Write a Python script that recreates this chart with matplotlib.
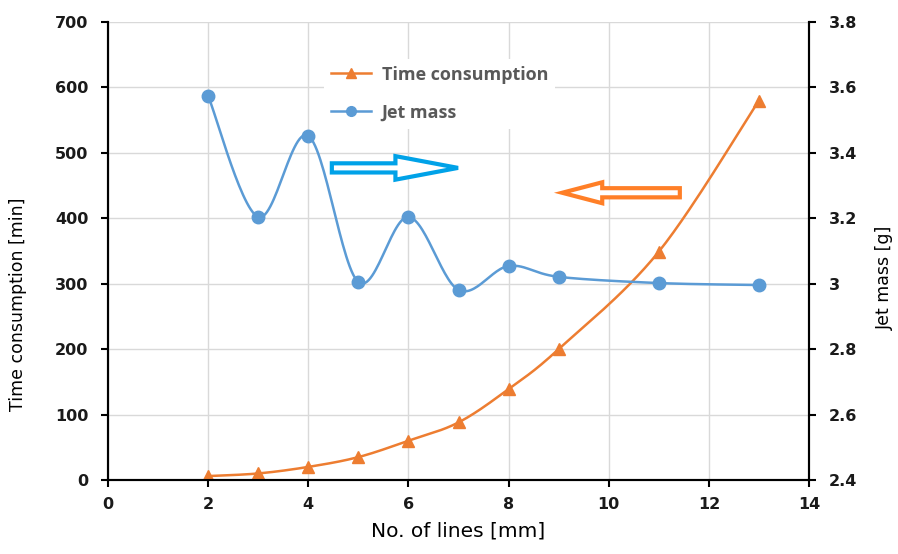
import numpy as np
import matplotlib.pyplot as plt
from matplotlib.patches import FancyArrow
from matplotlib.lines import Line2D

plt.rcParams['font.family'] = ['DejaVu Sans']

# data
lines_x = [2, 3, 4, 5, 6, 7, 8, 9, 11, 13]
time_min = [6, 10, 20, 35, 60, 88, 139, 200, 349, 580]
jet_mass = [3.574, 3.204, 3.452, 3.005, 3.204, 2.981, 3.054, 3.021, 3.002, 2.996]

ORANGE = '#ED7D31'
BLUE = '#5B9BD5'


def smooth(xs, ys, n=30):
    # Excel-like smoothed line (Catmull-Rom style bezier through the points)
    xs = np.asarray(xs, float)
    ys = np.asarray(ys, float)
    px = np.concatenate([[xs[0]], xs, [xs[-1]]])
    py = np.concatenate([[ys[0]], ys, [ys[-1]]])
    outx, outy = [], []
    t = np.linspace(0, 1, n)
    for i in range(1, len(px) - 2):
        p0 = np.array([px[i], py[i]])
        p3 = np.array([px[i + 1], py[i + 1]])
        p1 = p0 + (np.array([px[i + 1], py[i + 1]]) - np.array([px[i - 1], py[i - 1]])) / 6
        p2 = p3 - (np.array([px[i + 2], py[i + 2]]) - np.array([px[i], py[i]])) / 6
        b = ((1 - t) ** 3)[:, None] * p0 + (3 * (1 - t) ** 2 * t)[:, None] * p1 \
            + (3 * (1 - t) * t ** 2)[:, None] * p2 + (t ** 3)[:, None] * p3
        outx.extend(b[:, 0])
        outy.extend(b[:, 1])
    return outx, outy


fig = plt.figure(figsize=(8.98, 5.54), dpi=100)
ax = fig.add_axes([0.1203, 0.1336, 0.7806, 0.8267])
ax2 = ax.twinx()

# time consumption (left axis)
sx, sy = smooth(lines_x, time_min)
ax.plot(sx, sy, color=ORANGE, lw=1.8, zorder=3)
ax.plot(lines_x, time_min, ls='none', marker='^', ms=9, color=ORANGE, zorder=4)

# jet mass (right axis)
sx, sy = smooth(lines_x, jet_mass)
ax2.plot(sx, sy, color=BLUE, lw=1.8, zorder=3)
ax2.plot(lines_x, jet_mass, ls='none', marker='o', ms=9, color=BLUE, zorder=4)

ax.set_xlim(0, 14)
ax.set_ylim(0, 700)
ax2.set_ylim(2.4, 3.8)
ax.set_xticks(range(0, 15, 2))
ax.set_yticks(range(0, 701, 100))
ax2.set_yticks([2.4, 2.6, 2.8, 3.0, 3.2, 3.4, 3.6, 3.8])
ax2.set_yticklabels(['2.4', '2.6', '2.8', '3', '3.2', '3.4', '3.6', '3.8'])

ax.grid(True, color='#D9D9D9', lw=1)
ax.set_axisbelow(True)

for a in (ax, ax2):
    a.spines['top'].set_visible(False)
    for s in ('left', 'right', 'bottom'):
        a.spines[s].set_linewidth(1.5)
        a.spines[s].set_color('black')
    a.tick_params(axis='y', length=5, width=1.5, labelsize=11.5, colors='black', pad=9)
    a.tick_params(axis='x', length=5, width=1.5, labelsize=11.5, colors='black', pad=7)
    for lab in a.get_xticklabels() + a.get_yticklabels():
        lab.set_fontweight('bold')
        lab.set_color('#1a1a1a')

ax.set_xlabel('No. of lines [mm]', fontsize=14.5, labelpad=7)
ax.set_ylabel('Time consumption [min]', fontsize=12.5)
ax2.set_ylabel('Jet mass [g]', fontsize=12.5)
# the y labels sit below the middle of the axis in the original
ax.yaxis.set_label_coords(-0.1155, 0.384)
ax2.yaxis.set_label_coords(1.0956, 0.441)

# hollow arrows pointing to the matching axis
ax.add_patch(FancyArrow(4.47, 477, 2.52, 0, width=14, head_width=36, head_length=1.25,
                        length_includes_head=True, fc='white', ec='#00A2E8', lw=3, zorder=5))
ax.add_patch(FancyArrow(11.42, 439, -2.35, 0, width=14, head_width=32, head_length=0.8,
                        length_includes_head=True, fc='white', ec='#FF7F27', lw=3, zorder=5))

handles = [Line2D([], [], color=ORANGE, lw=1.8, marker='^', ms=7),
           Line2D([], [], color=BLUE, lw=1.8, marker='o', ms=7)]
leg = ax2.legend(handles, ['Time consumption', 'Jet mass'], loc='upper left',
                 bbox_to_anchor=(0.295, 0.94), frameon=True, fancybox=False,
                 edgecolor='none', facecolor='white', framealpha=1,
                 labelspacing=1.1, handlelength=2.2, handletextpad=0.6,
                 prop={'family': 'Open Sans', 'weight': 'bold', 'size': 13})
for t in leg.get_texts():
    t.set_color('#595959')

fig.savefig('out.png', dpi=100)
